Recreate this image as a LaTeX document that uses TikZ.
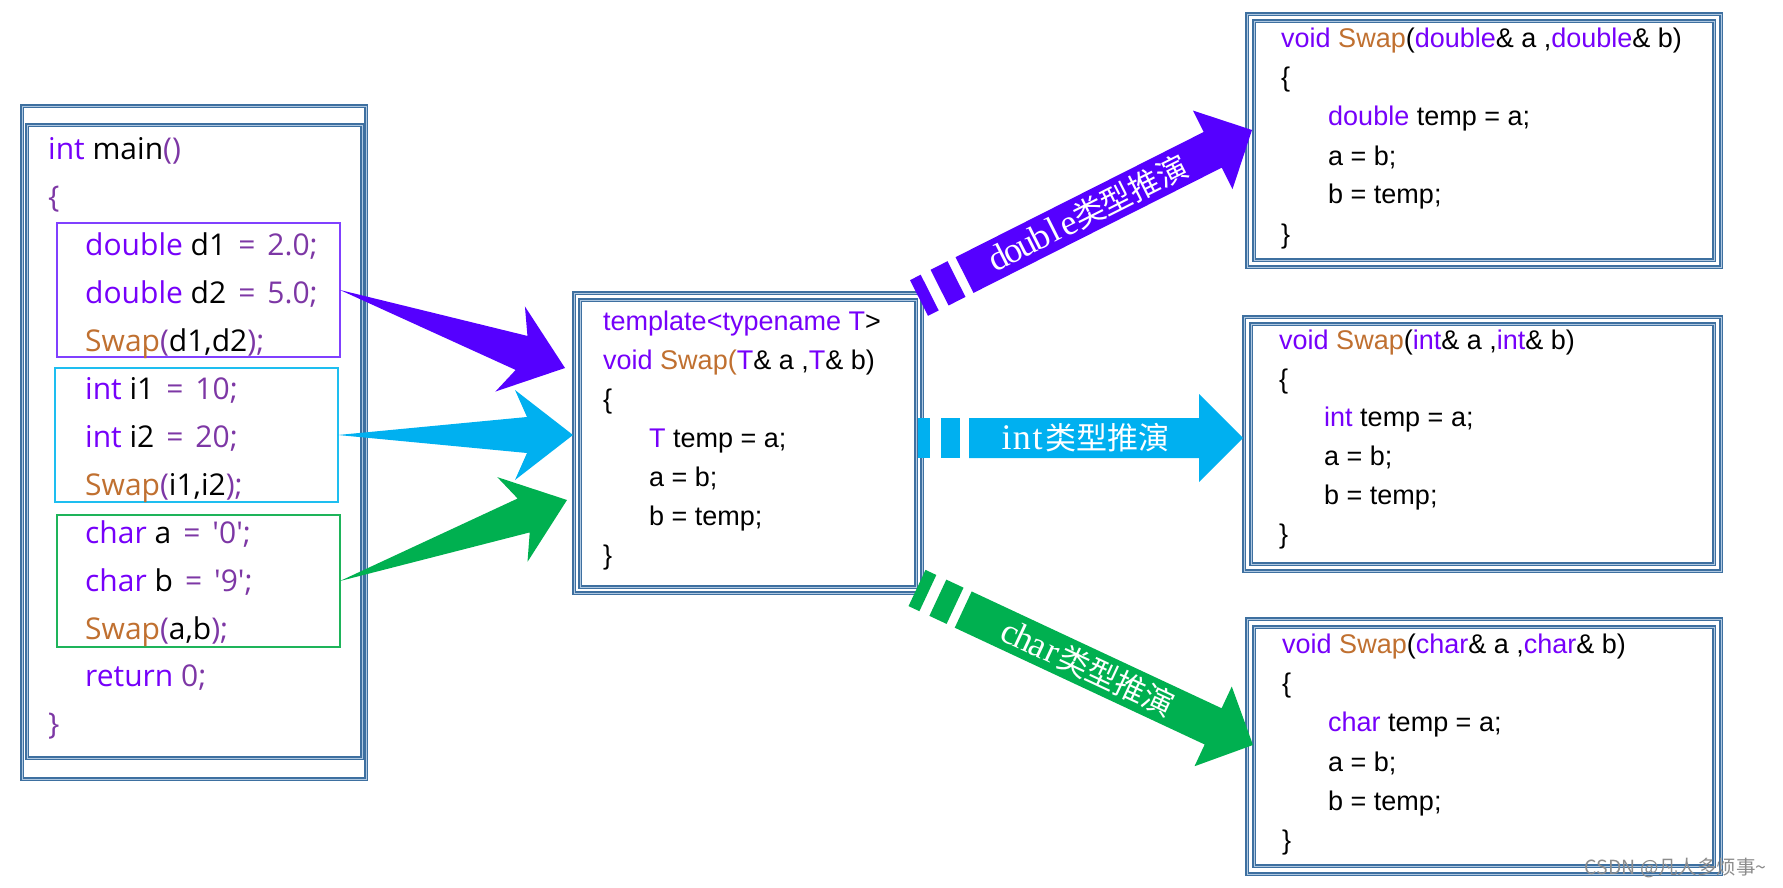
\documentclass[tikz,border=0pt]{standalone}
\usepackage{fontspec}
\usetikzlibrary{calc,fit}
\newfontfamily\lf{Open Sans}
\newfontfamily\af{Liberation Sans}
\newfontfamily\tfn{Liberation Serif}
\newfontfamily\cjk{Noto Sans CJK SC}
\definecolor{kwc}{RGB}{118,0,250}
\definecolor{opc}{RGB}{125,55,165}
\definecolor{fnc}{RGB}{192,112,48}
\definecolor{frc}{RGB}{62,112,160}
\definecolor{frl}{RGB}{175,200,225}
\definecolor{arrP}{RGB}{85,0,255}
\definecolor{arrC}{RGB}{0,176,240}
\definecolor{arrG}{RGB}{0,176,80}
\definecolor{boxP}{RGB}{128,64,255}
\definecolor{boxC}{RGB}{30,190,240}
\definecolor{boxG}{RGB}{30,180,90}
\newcommand\kwd[1]{\textcolor{kwc}{#1}}
\newcommand\opr[1]{\textcolor{opc}{#1}}
\newcommand\fnm[1]{\textcolor{fnc}{#1}}
\newcommand\hwc[1]{\makebox[15.5pt][c]{\tfn\fontsize{36}{36}\selectfont #1}}
\newcommand\fatarr[3]{%
  \fill[#3] (#1) -- ($(#2)!46pt!(#1)!18pt!90:(#2)$) -- ($(#2)!58pt!(#1)!45pt!90:(#2)$) -- (#2)
    -- ($(#2)!58pt!(#1)!45pt!-90:(#2)$) -- ($(#2)!46pt!(#1)!18pt!-90:(#2)$) -- cycle;}
\newcommand\stripearr[4]{%
  \coordinate (sS) at (#1); \coordinate (sB) at (#2);
  \coordinate (sH) at ($(sB)!44pt!(sS)$);
  \coordinate (sE) at ($(sS)!51pt!(sB)$);
  \fill[#3] ($(sS)!20pt!90:(sB)$) -- ($(sS)!12pt!(sB)!20pt!90:(sB)$) -- ($(sS)!12pt!(sB)!20pt!-90:(sB)$) -- ($(sS)!20pt!-90:(sB)$) -- cycle;
  \fill[#3] ($(sS)!23pt!(sB)!20pt!90:(sB)$) -- ($(sS)!42pt!(sB)!20pt!90:(sB)$) -- ($(sS)!42pt!(sB)!20pt!-90:(sB)$) -- ($(sS)!23pt!(sB)!20pt!-90:(sB)$) -- cycle;
  \fill[#3] ($(sE)!20pt!90:(sB)$) -- ($(sH)!20pt!-90:(sS)$) -- ($(sH)!44pt!-90:(sS)$) -- (sB)
    -- ($(sH)!44pt!90:(sS)$) -- ($(sH)!20pt!90:(sS)$) -- ($(sE)!20pt!-90:(sB)$) -- cycle;
  \path (sE) -- (sH) node[midway, sloped, lbl] {#4};}
\tikzset{
  frame/.style={draw=frc, line width=1.1pt, double=frl, double distance=0.9pt, inner sep=0pt, outer sep=0pt},
  subbox/.style={draw=#1, line width=2.4pt, inner sep=0pt, outer sep=0pt},
  lcode/.style={anchor=base west, inner sep=0pt, font=\lf\fontsize{30}{36}\selectfont},
  acode/.style={anchor=base west, inner sep=0pt, font=\af\fontsize{27}{32}\selectfont},
  lbl/.style={text=white, font=\cjk\fontsize{31}{36}\selectfont, inner sep=0pt},
}
\begin{document}
\begin{tikzpicture}[x=1pt, y=-1pt]
\useasboundingbox (0,0) rectangle (1783,888);
\fill[white] (0,0) rectangle (1783,888);
% main box
\node[frame, fit={(22,106)(366,779)}] (Lo) {};
\node[frame, fit={(27,125)(362,758)}] (Li) {};
\node[subbox=boxP, fit={(57,223)(340,357)}] (Pb) {};
\node[subbox=boxC, fit={(55,368)(338,502)}] (Cb) {};
\node[subbox=boxG, fit={(57,515)(340,647)}] (Gb) {};
\node[lcode] (l0) at (48,160) {\kwd{int} main\opr{()}};
\node[lcode] (l1) at (48,207.9) {\opr{\{}};
\node[lcode] (l2) at (85,255.8) {\kwd{double} d1\hspace{12pt}\opr{=\hspace{12pt}2.0;}};
\node[lcode] (l3) at (85,303.7) {\kwd{double} d2\hspace{12pt}\opr{=\hspace{12pt}5.0;}};
\node[lcode] (l4) at (85,351.6) {\fnm{Swap}\opr{(}d1,d2\opr{);}};
\node[lcode] (l5) at (85,399.5) {\kwd{int} i1\hspace{12pt}\opr{=\hspace{12pt}10;}};
\node[lcode] (l6) at (85,447.4) {\kwd{int} i2\hspace{12pt}\opr{=\hspace{12pt}20;}};
\node[lcode] (l7) at (85,495.3) {\fnm{Swap}\opr{(}i1,i2\opr{);}};
\node[lcode] (l8) at (85,543.2) {\kwd{char} a\hspace{12pt}\opr{=\hspace{12pt}\textquotesingle0\textquotesingle;}};
\node[lcode] (l9) at (85,591.1) {\kwd{char} b\hspace{12pt}\opr{=\hspace{12pt}\textquotesingle9\textquotesingle;}};
\node[lcode] (l10) at (85,639) {\fnm{Swap}\opr{(}a,b\opr{);}};
\node[lcode] (l11) at (85,686.9) {\kwd{return} \opr{0;}};
\node[lcode] (l12) at (48,734.8) {\opr{\}}};
% template box
\node[frame, fit={(574,293)(922,593)}] (Mo) {};
\node[frame, fit={(580,300)(916,587)}] (Mi) {};
\node[acode] (m0) at (603,330) {\kwd{template<typename T}>};
\node[acode] (m1) at (603,369) {\kwd{void} \fnm{Swap(}\kwd{T}\& a ,\kwd{T}\& b)};
\node[acode] (m2) at (603,408) {\{};
\node[acode] (m3) at (649,447) {\kwd{T} temp = a;};
\node[acode] (m4) at (649,486) {a = b;};
\node[acode] (m5) at (649,525) {b = temp;};
\node[acode] (m6) at (603,564) {\}};
% double box
\node[frame, fit={(1247,14)(1721,267)}] (To) {};
\node[frame, fit={(1254,21)(1714,260)}] (Ti) {};
\node[acode] (t0) at (1281,48) {\kwd{void} \fnm{Swap}(\kwd{double}\& a ,\kwd{double}\& b)};
\node[acode] (t1) at (1281,87) {\{};
\node[acode] (t2) at (1328,126) {\kwd{double} temp = a;};
\node[acode] (t3) at (1328,165) {a = b;};
\node[acode] (t4) at (1328,204) {b = temp;};
\node[acode] (t5) at (1281,243) {\}};
% int box
\node[frame, fit={(1244,317)(1721,571)}] (Ro) {};
\node[frame, fit={(1251,324)(1714,564)}] (Ri) {};
\node[acode] (r0) at (1279,349) {\kwd{void} \fnm{Swap}(\kwd{int}\& a ,\kwd{int}\& b)};
\node[acode] (r1) at (1279,388) {\{};
\node[acode] (r2) at (1324,426.5) {\kwd{int} temp = a;};
\node[acode] (r3) at (1324,465) {a = b;};
\node[acode] (r4) at (1324,504) {b = temp;};
\node[acode] (r5) at (1279,543) {\}};
% char box
\node[frame, fit={(1247,619)(1721,874)}] (Bo) {};
\node[frame, fit={(1254,627)(1714,866)}] (Bi) {};
\node[acode] (b0) at (1282,653) {\kwd{void} \fnm{Swap}(\kwd{char}\& a ,\kwd{char}\& b)};
\node[acode] (b1) at (1282,692) {\{};
\node[acode] (b2) at (1328,731.7) {\kwd{char} temp = a;};
\node[acode] (b3) at (1328,771.2) {a = b;};
\node[acode] (b4) at (1328,810.5) {b = temp;};
\node[acode] (b5) at (1282,849.5) {\}};
% left arrows
\coordinate (tp) at ($(Mo.west)+(-9,-75)$);
\coordinate (tc) at ($(Mo.west)+(-1,-8)$);
\coordinate (tg) at ($(Mo.west)+(-7,57)$);
\fatarr{Pb.east}{tp}{arrP}
\fatarr{Cb.east}{tc}{arrC}
\fatarr{Gb.east}{tg}{arrG}
% right arrows
\coordinate (sd) at ($(Mo.north east)+(-3,5)$);
\coordinate (ed) at ($(To.west)+(5,-10.5)$);
\coordinate (si) at ($(Mo.east)+(-4,-5)$);
\coordinate (ei) at ($(Ro.west)+(-1,-6)$);
\coordinate (sc) at ($(Mo.south east)+(-5,-5)$);
\coordinate (ec) at ($(Bo.west)+(6,-1.5)$);
\stripearr{sd}{ed}{arrP}{\hwc{d}\hwc{o}\hwc{u}\hwc{b}\hwc{l}\hwc{e}类型推演}
\stripearr{si}{ei}{arrC}{\hwc{i}\hwc{n}\hwc{t}类型推演}
\stripearr{sc}{ec}{arrG}{\hwc{c}\hwc{h}\hwc{a}\hwc{r}类型推演}
% watermark
\node[anchor=base east, inner sep=0pt, text=black!45, font=\cjk\fontsize{19.5}{22}\selectfont] (wm) at (1767,874) {CSDN @凡人多烦事\textasciitilde};
\end{tikzpicture}
\end{document}
